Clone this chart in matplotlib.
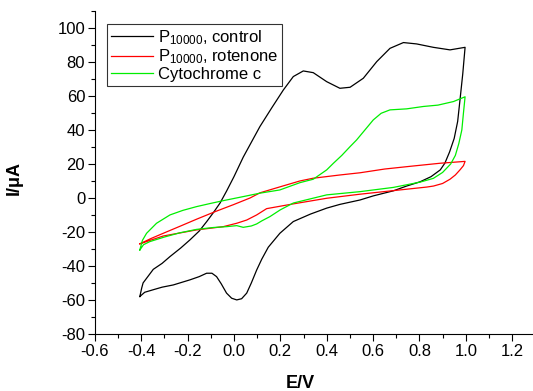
#!/usr/bin/python3
import matplotlib
matplotlib.use('Agg')
import matplotlib.pyplot as plt
from matplotlib.ticker import MultipleLocator

plt.rcParams['font.family'] = ['Liberation Sans', 'DejaVu Sans']
plt.rcParams['mathtext.fontset'] = 'custom'
plt.rcParams['mathtext.rm'] = 'Liberation Sans'
plt.rcParams['mathtext.it'] = 'Liberation Sans'

# P10000, control (anodic branch then cathodic branch)
E_control = [-0.406, -0.398, -0.392, -0.37, -0.348, -0.31, -0.276, -0.23, -0.19,
             -0.15, -0.118, -0.088, -0.06, -0.032, 0.0, 0.04, 0.08, 0.112,
             0.163, 0.213, 0.256, 0.299, 0.342, 0.4, 0.457, 0.501, 0.558,
             0.616, 0.673, 0.731, 0.788, 0.86, 0.932, 0.997,
             0.987, 0.975, 0.965, 0.95, 0.93, 0.91, 0.89, 0.85, 0.803,
             0.745, 0.688, 0.601, 0.544, 0.457, 0.4, 0.33, 0.256, 0.198,
             0.148, 0.12, 0.098, 0.075, 0.055, 0.033, 0.012, -0.01, -0.032,
             -0.055, -0.075, -0.095, -0.118, -0.15, -0.19, -0.262, -0.31,
             -0.348, -0.385, -0.406]
I_control = [-58, -53, -50, -46, -42, -38.5, -34.5, -29.5, -24.7,
             -19.5, -14, -8.5, -3, 4, 12.5, 24, 34, 42,
             53, 63.5, 71.4, 74.7, 73.7, 68.4, 64.5, 65.1, 70.4,
             80.2, 88, 91.4, 90.6, 88.6, 87.1, 88.6,
             73, 57.6, 45, 35, 27, 20.5, 16.5, 12.5, 9.5,
             7, 4.2, 1.2, -1.2, -3.8, -6, -9.5, -13.9, -20.8,
             -29, -36, -42.4, -50, -56, -59.3, -60, -59, -56,
             -50.5, -46.3, -44.3, -44.3, -46.3, -48.2, -51.2, -52.5,
             -54, -55.5, -58]

# P10000, rotenone
E_roten = [-0.406, -0.36, -0.305, -0.23, -0.161, -0.08, -0.003, 0.07, 0.112,
           0.198, 0.285, 0.342, 0.457, 0.544, 0.65, 0.76, 0.889, 0.997,
           0.99, 0.975, 0.955, 0.932, 0.9, 0.861, 0.832, 0.688, 0.544,
           0.4, 0.256, 0.141, 0.098, 0.055, 0.012, -0.046, -0.161, -0.305,
           -0.406]
I_roten = [-27, -24, -20.8, -16.5, -12.5, -8, -4, 0, 3,
           6.5, 10, 11.6, 13.5, 14.8, 17, 18.6, 20.4, 21.5,
           19, 16.5, 13.5, 11, 8.5, 7, 6.4, 4.3, 2.2,
           -0.2, -3.5, -6.3, -10, -13, -14.9, -16.9, -18.8, -22.4,
           -27]

# Cytochrome c
E_cyt = [-0.406, -0.395, -0.377, -0.334, -0.276, -0.22, -0.161, -0.1, -0.046,
         0.055, 0.112, 0.198, 0.285, 0.342, 0.4, 0.429, 0.465, 0.501,
         0.529, 0.565, 0.601, 0.635, 0.673, 0.745, 0.817, 0.88, 0.947,
         0.997,
         0.99, 0.983, 0.97, 0.955, 0.935, 0.9, 0.86, 0.803, 0.688,
         0.544, 0.4, 0.256, 0.2, 0.155, 0.12, 0.098, 0.075, 0.04,
         0.012, -0.032, -0.089, -0.161, -0.233, -0.3, -0.363, -0.39,
         -0.406]
I_cyt = [-30.6, -25, -20.8, -14.9, -10, -7.3, -5.1, -3.2, -1.6,
         1.2, 2.8, 4.7, 9, 11, 16.5, 20.4, 25, 30.2,
         34.1, 40, 45.9, 49.8, 51.8, 52.4, 53.8, 54.6, 56.7,
         59.5,
         50, 40, 32, 25, 20, 15, 11.5, 9.3, 6.2,
         3.7, 1.8, -3, -7, -11, -13.5, -15.3, -16.5, -17.3,
         -16.3, -16.9, -17.4, -18.5, -20.5, -23, -25.7, -27.5,
         -30.6]

labels = [r'$\mathregular{P_{10000}}$, control',
          r'$\mathregular{P_{10000}}$, rotenone',
          'Cytochrome c']


def main():
    fig = plt.figure(figsize=(5.33, 3.91), dpi=100)
    ax = fig.add_axes([0.178, 0.146, 0.822, 0.826])
    ax.plot(E_control, I_control, color='black', lw=0.9, label=labels[0])
    ax.plot(E_roten, I_roten, color='#ff0000', lw=0.9, label=labels[1])
    ax.plot(E_cyt, I_cyt, color='#00ee00', lw=0.9, label=labels[2])

    ax.set_xlim(-0.6, 1.29)
    ax.set_ylim(-80, 110)
    ax.xaxis.set_minor_locator(MultipleLocator(0.1))
    ax.yaxis.set_minor_locator(MultipleLocator(10))
    xt = [-0.6, -0.4, -0.2, 0.0, 0.2, 0.4, 0.6, 0.8, 1.0, 1.2]
    ax.set_xticks(xt)
    ax.set_xticklabels(['%.1f' % v for v in xt])
    yt = list(range(-80, 101, 20))
    ax.set_yticks(yt)
    ax.set_yticklabels([str(v) for v in yt])
    ax.tick_params(which='major', direction='out', length=5, width=0.8,
                   labelsize=12, pad=2)
    ax.tick_params(which='minor', direction='out', length=3, width=0.8)
    for s in ['top', 'right']:
        ax.spines[s].set_visible(False)

    ax.set_xlabel('E/V', fontsize=13, fontweight='bold', va='baseline')
    ax.xaxis.set_label_coords(0.468, -0.168)
    ax.set_ylabel('I/\u03bcA', fontsize=13, fontweight='bold')
    ax.yaxis.set_label_coords(-0.165, 0.483)

    leg = ax.legend(loc='upper left', bbox_to_anchor=(0.027, 0.96),
                    fontsize=12, frameon=True, fancybox=False,
                    handlelength=2.5, handletextpad=0.3, borderpad=0.25,
                    labelspacing=0.05, borderaxespad=0)
    leg.get_frame().set_edgecolor('black')
    leg.get_frame().set_linewidth(0.8)

    fig.savefig('out.png', dpi=100)


if __name__ == '__main__':
    main()
